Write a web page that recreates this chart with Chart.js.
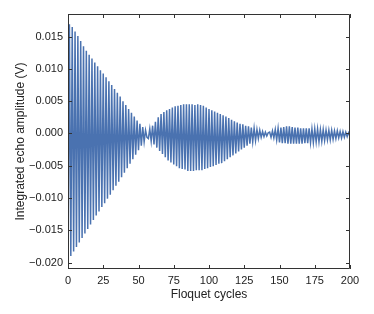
<!DOCTYPE html>
<html>
<head>
<meta charset="utf-8">
<script src="https://cdn.jsdelivr.net/npm/chart.js@4/dist/chart.umd.min.js"></script>
<style>
  html, body { margin: 0; padding: 0; background: #ffffff; }
  #c { display: block; }
</style>
</head>
<body>
<canvas id="c" width="374" height="314"></canvas>
<script>
// Integrated echo amplitude (V) for Floquet cycles 0..200
const amplitude = [
  -0.0193, 0.0169, -0.0190, 0.0165, -0.0183, 0.0158, -0.0176, 0.0151, -0.0169, 0.0143,
  -0.0162, 0.0135, -0.0155, 0.0128, -0.0148, 0.0122, -0.0141, 0.0116, -0.0134, 0.0110,
  -0.0127, 0.0104, -0.0121, 0.0098, -0.0114, 0.0093, -0.0108, 0.0087, -0.0101, 0.0081,
  -0.0095, 0.0075, -0.0088, 0.0069, -0.0081, 0.0063, -0.0075, 0.0057, -0.0068, 0.0050,
  -0.0061, 0.0044, -0.0054, 0.0038, -0.0047, 0.0032, -0.0040, 0.0026, -0.0033, 0.0020,
  -0.0026, 0.0015, -0.0019, 0.0010, -0.0013, 0.0005, -0.0006, -0.0008, 0.0007, -0.0012,
  0.0012, -0.0017, 0.0018, -0.0022, 0.0025, -0.0027, 0.0030, -0.0032, 0.0033, -0.0037,
  0.0036, -0.0042, 0.0038, -0.0045, 0.0040, -0.0048, 0.0042, -0.0051, 0.0043, -0.0054,
  0.0044, -0.0055, 0.0045, -0.0056, 0.0045, -0.0058, 0.0045, -0.0058, 0.0045, -0.0058,
  0.0044, -0.0057, 0.0045, -0.0057, 0.0044, -0.0057, 0.0043, -0.0055, 0.0040, -0.0054,
  0.0038, -0.0052, 0.0036, -0.0051, 0.0034, -0.0049, 0.0032, -0.0047, 0.0030, -0.0046,
  0.0028, -0.0043, 0.0026, -0.0040, 0.0024, -0.0037, 0.0021, -0.0034, 0.0019, -0.0031,
  0.0017, -0.0028, 0.0015, -0.0025, 0.0014, -0.0022, 0.0012, -0.0019, 0.0011, -0.0016,
  0.0009, -0.0013, 0.0008, -0.0011, 0.0006, -0.0008, 0.0005, -0.0006, 0.0003, -0.0005,
  0.0002, -0.0004, 0.0001, 0.0002, -0.0006, 0.0004, -0.0007, 0.0006, -0.0010, 0.0008,
  -0.0014, 0.0009, -0.0015, 0.0010, -0.0015, 0.0011, -0.0016, 0.0011, -0.0016, 0.0010,
  -0.0016, 0.0009, -0.0016, 0.0009, -0.0016, 0.0008, -0.0016, 0.0008, -0.0015, 0.0008,
  -0.0015, 0.0008, -0.0014, 0.0007, -0.0014, 0.0007, -0.0013, 0.0007, -0.0013, 0.0006,
  -0.0012, 0.0006, -0.0011, 0.0005, -0.0010, 0.0005, -0.0010, 0.0005, -0.0009, 0.0004,
  -0.0008, 0.0004, -0.0007, 0.0003, -0.0007, 0.0003, -0.0006, 0.0002, -0.0005, 0.0001,
  -0.0004
];
// Floquet cycle index for each sample (0, 1, 2, ...)
const cycles = amplitude.map((_, i) => i);

const xTickValues = [0, 25, 50, 75, 100, 125, 150, 175, 200];
const yTickValues = [-0.020, -0.015, -0.010, -0.005, 0.000, 0.005, 0.010, 0.015];

const xTitle = 'Floquet cycles';
const yTitle = 'Integrated echo amplitude (V)';

const points = cycles.map((c, i) => ({ x: c, y: amplitude[i] }));

const FONT = "'Liberation Sans', Arial, Helvetica, sans-serif";
const FRAME = '#333333';
const TEXT = '#222222';

const frameTicks = {
  id: 'frameTicks',
  afterDraw(chart) {
    const { ctx, chartArea: a, scales } = chart;
    const L = 4;
    ctx.save();
    ctx.strokeStyle = FRAME;
    ctx.lineWidth = 1;
    ctx.beginPath();
    ctx.rect(Math.round(a.left) + 0.5, Math.round(a.top) + 0.5,
             Math.round(a.right - a.left) - 1, Math.round(a.bottom - a.top) - 1);
    ctx.stroke();
    ctx.beginPath();
    scales.x.ticks.forEach(t => {
      const px = Math.round(scales.x.getPixelForValue(t.value)) + 0.5;
      ctx.moveTo(px, a.bottom); ctx.lineTo(px, a.bottom - L);
      ctx.moveTo(px, a.top); ctx.lineTo(px, a.top + L);
    });
    scales.y.ticks.forEach(t => {
      const py = Math.round(scales.y.getPixelForValue(t.value)) + 0.5;
      ctx.moveTo(a.left, py); ctx.lineTo(a.left + L, py);
      ctx.moveTo(a.right, py); ctx.lineTo(a.right - L, py);
    });
    ctx.stroke();
    ctx.restore();
  }
};

const fmtY = v => {
  const s = Math.abs(v) < 1e-12 ? '0.000' : v.toFixed(3);
  return s.replace('-', '\u2212');
};

new Chart(document.getElementById('c'), {
  type: 'line',
  data: {
    datasets: [{
      data: points,
      borderColor: '#4a72b0',
      borderWidth: 1.5,
      pointRadius: 0,
      tension: 0,
      fill: false
    }]
  },
  options: {
    responsive: false,
    animation: false,
    devicePixelRatio: 1,
    layout: { padding: { top: 14, right: 24, bottom: 0, left: 0 } },
    plugins: { legend: { display: false }, tooltip: { enabled: false } },
    scales: {
      x: {
        type: 'linear',
        min: 0,
        max: 200,
        afterBuildTicks: s => { s.ticks = xTickValues.map(v => ({ value: v })); },
        afterFit: s => { s.height = 45; },
        grid: { display: false, drawTicks: false },
        border: { display: false },
        ticks: { padding: 5, color: TEXT, font: { family: FONT, size: 11 }, maxRotation: 0,
                 callback: v => String(v) },
        title: { display: true, text: xTitle, color: TEXT, font: { family: FONT, size: 12 },
                 padding: { top: 0, bottom: 12 } }
      },
      y: {
        type: 'linear',
        min: -0.021,
        max: 0.0185,
        afterBuildTicks: s => { s.ticks = yTickValues.map(v => ({ value: v })); },
        afterFit: s => { s.width = 68; },
        grid: { display: false, drawTicks: false },
        border: { display: false },
        ticks: { padding: 5, color: TEXT, font: { family: FONT, size: 11 },
                 callback: v => fmtY(v) },
        title: { display: true, text: yTitle, color: TEXT, font: { family: FONT, size: 12 },
                 padding: { top: 13, bottom: 0 } }
      }
    }
  },
  plugins: [frameTicks]
});
</script>
</body>
</html>
